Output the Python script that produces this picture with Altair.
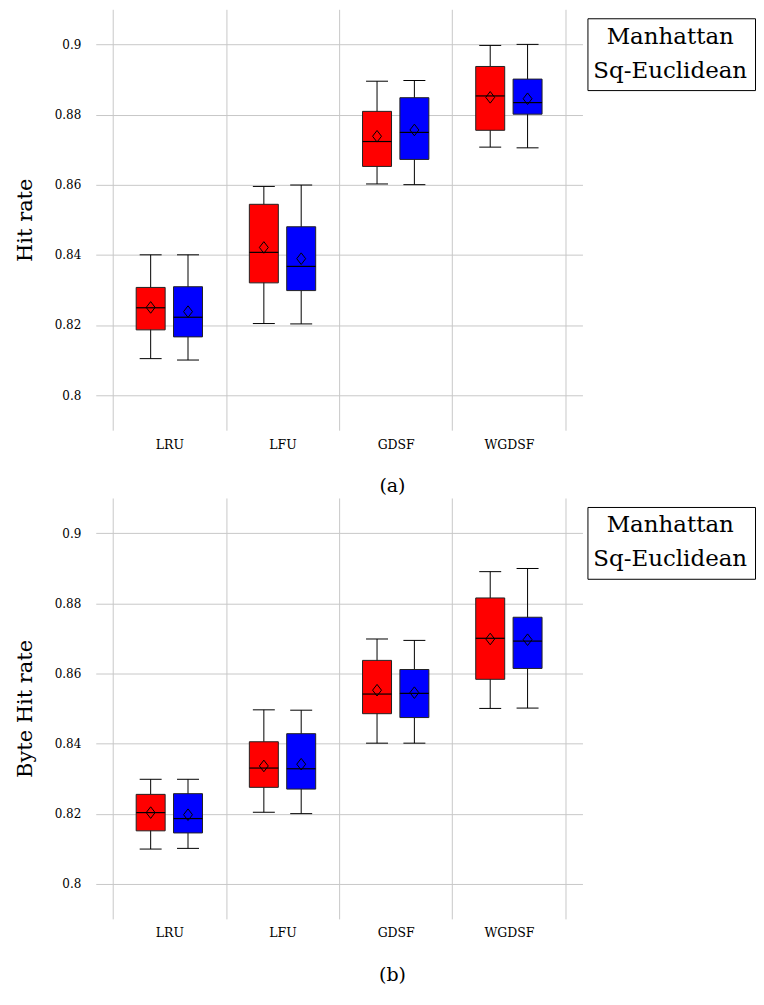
import json
import altair as alt
import pandas as pd

categories = ["LRU", "LFU", "GDSF", "WGDSF"]
series = ["Manhattan", "Sq-Euclidean"]
series_colors = ["#ff0000", "#0000ff"]
y_ticks = [0.8, 0.82, 0.84, 0.86, 0.88, 0.9]

# (a) Hit rate
hit_man_lo = [0.8104, 0.8204, 0.8602, 0.8707]
hit_man_q1 = [0.8186, 0.8320, 0.8652, 0.8755]
hit_man_med = [0.8249, 0.8407, 0.8723, 0.8853]
hit_man_q3 = [0.8307, 0.8544, 0.8809, 0.8937]
hit_man_hi = [0.8400, 0.8595, 0.8895, 0.8997]
hit_man_mean = [0.8250, 0.8421, 0.8738, 0.8849]

hit_sq_lo = [0.8100, 0.8203, 0.8600, 0.8705]
hit_sq_q1 = [0.8166, 0.8298, 0.8672, 0.8801]
hit_sq_med = [0.8222, 0.8367, 0.8749, 0.8834]
hit_sq_q3 = [0.8309, 0.8480, 0.8848, 0.8901]
hit_sq_hi = [0.8400, 0.8599, 0.8897, 0.9000]
hit_sq_mean = [0.8238, 0.8389, 0.8756, 0.8845]

# (b) Byte Hit rate
byte_man_lo = [0.8099, 0.8204, 0.8401, 0.8500]
byte_man_q1 = [0.8151, 0.8275, 0.8485, 0.8583]
byte_man_med = [0.8203, 0.8330, 0.8541, 0.8700]
byte_man_q3 = [0.8255, 0.8405, 0.8637, 0.8815]
byte_man_hi = [0.8298, 0.8496, 0.8698, 0.8890]
byte_man_mean = [0.8203, 0.8336, 0.8552, 0.8698]

byte_sq_lo = [0.8101, 0.8200, 0.8401, 0.8501]
byte_sq_q1 = [0.8145, 0.8270, 0.8474, 0.8614]
byte_sq_med = [0.8186, 0.8328, 0.8543, 0.8692]
byte_sq_q3 = [0.8257, 0.8428, 0.8611, 0.8760]
byte_sq_hi = [0.8298, 0.8495, 0.8694, 0.8899]
byte_sq_mean = [0.8197, 0.8341, 0.8545, 0.8696]


def build(stats):
    rows = []
    for s, (lo, q1, med, q3, hi, mean) in zip(series, stats):
        for i, c in enumerate(categories):
            rows.append(dict(cat=c, idx=i + 1, series=s, lo=lo[i], q1=q1[i],
                             med=med[i], q3=q3[i], hi=hi[i], mean=mean[i]))
    return pd.DataFrame(rows)


df_hit = build([
    (hit_man_lo, hit_man_q1, hit_man_med, hit_man_q3, hit_man_hi, hit_man_mean),
    (hit_sq_lo, hit_sq_q1, hit_sq_med, hit_sq_q3, hit_sq_hi, hit_sq_mean),
])
df_byte = build([
    (byte_man_lo, byte_man_q1, byte_man_med, byte_man_q3, byte_man_hi, byte_man_mean),
    (byte_sq_lo, byte_sq_q1, byte_sq_med, byte_sq_q3, byte_sq_hi, byte_sq_mean),
])

FONT = "DejaVu Serif"
W, H = 488, 422
DIAMOND = "M0,-1.3L1,0L0,1.3L-1,0Z"

label_expr = ("datum.value % 1 == 0 ? " + json.dumps(categories)
              + "[datum.value - 1] : ''")


def panel(df, ytitle, caption):
    xscale = alt.Scale(domain=[0.35, 4.65], nice=False, zero=False)
    yscale = alt.Scale(domain=[0.79, 0.91], nice=False, zero=False)
    xaxis = alt.Axis(
        values=[0.5, 1, 1.5, 2, 2.5, 3, 3.5, 4, 4.5],
        labelExpr=label_expr, grid=True,
        gridOpacity={"condition": {"test": "datum.value % 1 != 0", "value": 1}, "value": 0},
        ticks=False, domain=False, labelPadding=8, labelFontSize=12.5,
        title=caption, titleFontSize=19, titlePadding=26, titleX=297,
    )
    yaxis = alt.Axis(
        values=y_ticks, format=".2~f", grid=True, ticks=False, domain=False,
        labelPadding=15, labelFontSize=12, title=ytitle, titleFontSize=21,
        titlePadding=19,
    )

    def X(f):
        return alt.X(f, type="quantitative", scale=xscale, axis=xaxis)

    def Y(f):
        return alt.Y(f, type="quantitative", scale=yscale, axis=yaxis)

    base = alt.Chart(df).transform_calculate(
        xc="datum.idx + (datum.series == 'Manhattan' ? -0.165 : 0.165)"
    ).transform_calculate(
        xb1="datum.xc - 0.128", xb2="datum.xc + 0.128",
        xw1="datum.xc - 0.097", xw2="datum.xc + 0.097",
    )

    whisker = base.mark_rule(color="black", strokeWidth=1).encode(
        x=X("xc"), y=Y("lo"), y2="hi")
    cap_hi = base.mark_rule(color="black", strokeWidth=1).encode(
        x=X("xw1"), x2="xw2", y=Y("hi"))
    cap_lo = base.mark_rule(color="black", strokeWidth=1).encode(
        x=X("xw1"), x2="xw2", y=Y("lo"))
    box = base.mark_rect(stroke="#222222", strokeWidth=1, opacity=1).encode(
        x=X("xb1"), x2="xb2", y=Y("q1"), y2="q3",
        color=alt.Color(
            "series:N",
            scale=alt.Scale(domain=series, range=series_colors),
            legend=alt.Legend(
                orient="none", legendX=493, legendY=9, title=None,
                strokeColor="black", fillColor="white", padding=7,
                rowPadding=10, labelFont=FONT, labelFontSize=23,
                labelColor="black", labelAlign="center", labelLimit=400,
                labelOffset=53, symbolSize=0, symbolOpacity=0,
                symbolStrokeWidth=0, cornerRadius=0,
            ),
        ),
    )
    median = base.mark_rule(color="black", strokeWidth=1.2).encode(
        x=X("xb1"), x2="xb2", y=Y("med"))
    mean = base.mark_point(shape=DIAMOND, size=80, filled=False,
                           color="black", strokeWidth=1, opacity=1).encode(
        x=X("xc"), y=Y("mean"))

    return alt.layer(whisker, cap_hi, cap_lo, box, median, mean).properties(
        width=W, height=H)


top = panel(df_hit, "Hit rate", "(a)")
bottom = panel(df_byte, "Byte Hit rate", "(b)")

chart = alt.vconcat(top, bottom, spacing=2).resolve_legend(
    color="independent"
).properties(
    padding={"left": 6, "top": 0, "right": 0, "bottom": 0}
).configure_view(strokeWidth=0).configure_axis(
    labelFont=FONT, titleFont=FONT, titleFontWeight="normal",
    labelColor="black", titleColor="black",
    gridColor="#c8c8c8", gridWidth=1,
)

chart.save("out.html", embed_options={"renderer": "svg", "actions": False})
